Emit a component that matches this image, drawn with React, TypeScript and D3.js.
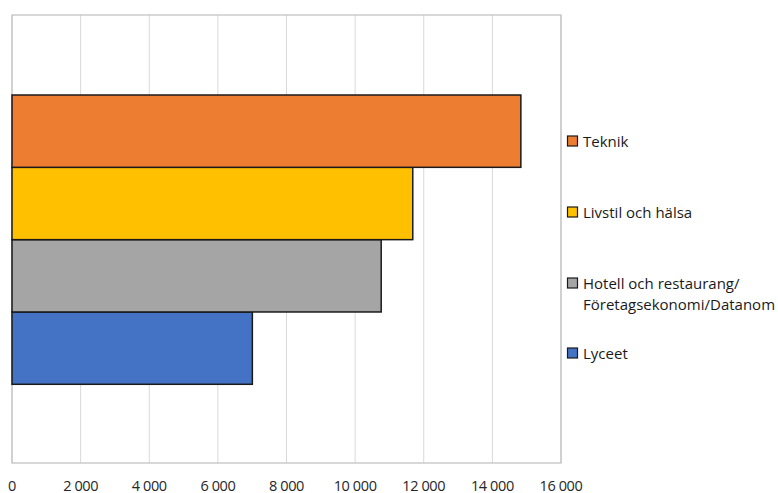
import React from "react";
import * as d3 from "d3";

const seriesNames = ["Lyceet", "Hotell och restaurang/Företagsekonomi/Datanom", "Livstil och hälsa", "Teknik"];
const seriesValues = [7005, 10760, 11680, 14830];
const seriesColors = ["#4472C4", "#A5A5A5", "#FFC000", "#ED7D31"];
const legendLines = [["Teknik"], ["Livstil och hälsa"], ["Hotell och restaurang/", "Företagsekonomi/Datanom"], ["Lyceet"]];
const legendColors = ["#ED7D31", "#FFC000", "#A5A5A5", "#4472C4"];
const legendY = [141, 212, 283, 353];
const tickValues = [0, 2000, 4000, 6000, 8000, 10000, 12000, 14000, 16000];

const W = 778, H = 493;
const left = 12, right = 561, top = 15, bottom = 463;
const FONT = "'Open Sans', sans-serif";

export default function App() {
  const x = d3.scaleLinear().domain([0, 16000]).range([left, right]);
  const groupTop = 95, groupBottom = 384.3;
  const y = d3.scaleBand<number>()
    .domain([3, 2, 1, 0])
    .range([groupTop, groupBottom])
    .padding(0);
  const fmt = (v: number) => d3.format(",")(v).replace(/,/g, " ");

  return (
    <svg width={W} height={H} style={{ position: "absolute", left: 0, top: 0, background: "#fff" }}>
      <rect x={0} y={0} width={W} height={H} fill="#fff" />
      {tickValues.map((t) => (
        <line key={"g" + t} x1={x(t)} x2={x(t)} y1={top} y2={bottom} stroke="#d9d9d9" strokeWidth={1} />
      ))}
      <rect x={left} y={top} width={right - left} height={bottom - top} fill="none" stroke="#bfbfbf" strokeWidth={1.2} />
      {seriesValues.map((v, i) => (
        <rect
          key={"b" + i}
          x={x(0)}
          y={y(i)!}
          width={x(v) - x(0)}
          height={y.bandwidth()}
          fill={seriesColors[i]}
          stroke="#1a1a1a"
          strokeWidth={1.5}
        >
          <title>{seriesNames[i]}</title>
        </rect>
      ))}
      {tickValues.map((t) => (
        <text key={"t" + t} x={x(t)} y={490.5} textAnchor="middle" fontFamily={FONT} fontSize={14.5} letterSpacing={-0.4} fill="#262626">
          {t === 0 ? "0" : fmt(t)}
        </text>
      ))}
      {legendLines.map((lines, i) => (
        <g key={"l" + i}>
          <rect x={567.5} y={legendY[i] - 5} width={10} height={10} fill={legendColors[i]} stroke="#1a1a1a" strokeWidth={1.2} />
          {lines.map((ln, j) => (
            <text key={j} x={583} y={legendY[i] + 5.5 + j * 21} fontFamily={FONT} fontSize={15} letterSpacing={0} fill="#1a1a1a">
              {ln}
            </text>
          ))}
        </g>
      ))}
    </svg>
  );
}
